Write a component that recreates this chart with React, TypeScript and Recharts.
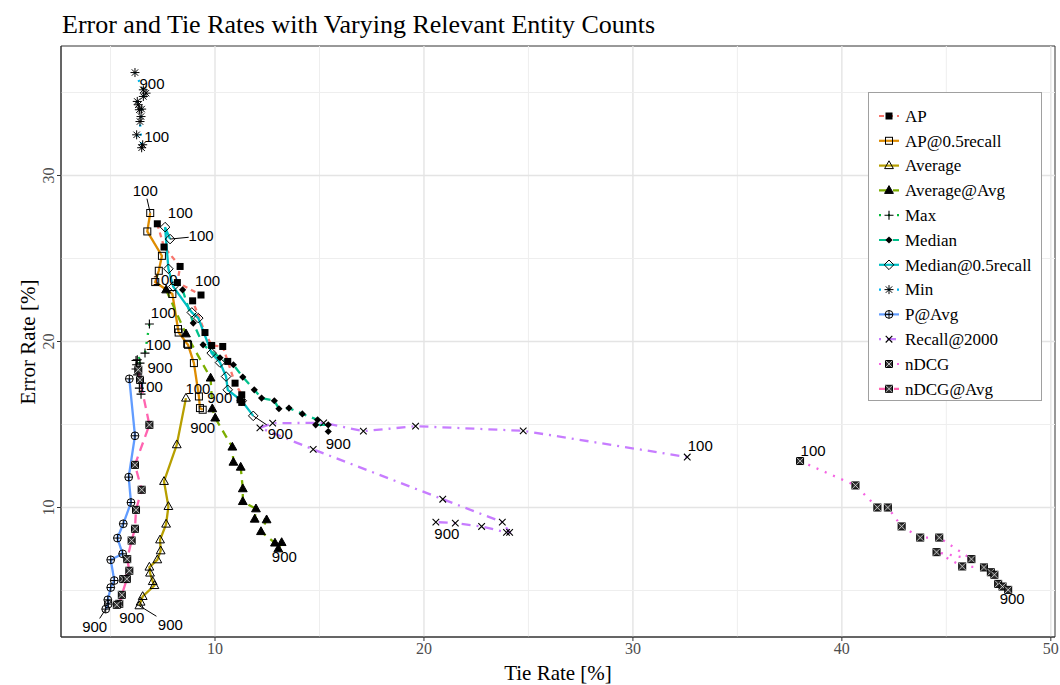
import React from 'react';
import { ScatterChart, Scatter, XAxis, YAxis, ReferenceLine, ReferenceArea } from 'recharts';

// tie rate [%] / error rate [%] per series, ordered 100 -> 900 relevant entities
const apTie = [7.24, 7.56, 8.33, 8.2, 9.33, 8.93, 9.52, 9.84, 10.37, 10.61, 10.96, 11.28, 11.2, 11.28];
const apErr = [27.09, 25.69, 24.52, 23.55, 22.8, 22.45, 20.54, 19.76, 19.7, 18.8, 17.49, 16.79, 16.49, 16.33];

const ap05Tie = [6.9, 6.76, 7.46, 7.31, 7.14, 7.96, 8.23, 8.26, 8.67, 8.71, 8.99, 9.23, 9.28, 9.41];
const ap05Err = [27.74, 26.63, 25.16, 24.26, 23.58, 22.86, 20.75, 20.54, 19.86, 19.8, 18.7, 16.69, 15.99, 15.89];

const avgTie = [8.61, 8.17, 7.56, 7.77, 7.66, 7.37, 7.4, 7.24, 6.86, 6.89, 7.02, 7.1, 6.54, 6.44, 6.38];
const avgErr = [16.59, 13.78, 11.57, 10.06, 9.0, 8.05, 7.39, 6.85, 6.41, 6.05, 5.54, 5.3, 4.64, 4.3, 4.08];

const avgAvgTie = [7.66, 8.61, 9.79, 9.87, 10.01, 10.83, 10.88, 11.23, 11.33, 11.33, 11.96, 11.9, 12.47, 12.2, 12.87, 13.19, 13.03];
const avgAvgErr = [23.11, 20.46, 17.8, 15.95, 15.39, 13.64, 12.73, 12.43, 11.13, 10.36, 9.92, 9.3, 9.26, 8.55, 7.86, 7.89, 7.51];

const maxTie = [6.86, 6.65, 6.22, 6.28, 6.41, 6.25, 6.22, 6.3, 6.49, 6.38, 6.46];
const maxErr = [21.05, 19.3, 18.86, 18.9, 18.7, 18.6, 18.34, 17.99, 17.49, 17.19, 16.83];

const medTie = [8.45, 8.96, 9.43, 10.24, 10.88, 11.33, 11.88, 12.23, 12.84, 13.06, 13.54, 14.18, 14.91, 14.82, 15.42, 15.42];
const medErr = [23.11, 21.11, 19.8, 19.02, 18.6, 17.86, 17.09, 16.59, 16.43, 15.95, 15.99, 15.64, 15.28, 14.98, 14.98, 14.58];

const med05Tie = [7.85, 7.61, 7.77, 8.0, 8.89, 9.2, 9.84, 10.24, 10.53, 10.61, 11.28, 11.83];
const med05Err = [26.17, 26.89, 24.38, 23.31, 21.75, 21.41, 19.3, 18.73, 17.89, 17.09, 16.43, 15.52];

const minTie = [6.25, 6.54, 6.49, 6.41, 6.46, 6.38, 6.49, 6.33, 6.28, 6.57, 6.7, 6.57, 6.17];
const minErr = [32.45, 31.85, 31.67, 33.25, 33.55, 33.96, 34.0, 34.26, 34.46, 34.76, 34.96, 35.16, 36.2];

const pAvgTie = [5.9, 6.17, 5.87, 5.98, 5.61, 5.33, 5.58, 5.01, 5.18, 5.01, 4.87, 4.89, 4.77];
const pAvgErr = [17.75, 14.32, 11.83, 10.3, 9.02, 8.16, 7.21, 6.85, 5.6, 5.18, 4.44, 4.18, 3.88];

const recallTie = [32.6, 24.75, 19.6, 17.1, 15.2, 12.76, 12.15, 14.7, 20.9, 23.75, 24.1, 23.95, 22.76, 21.5, 20.57];
const recallErr = [13.04, 14.62, 14.9, 14.6, 15.1, 15.08, 14.8, 13.5, 10.5, 9.12, 8.5, 8.5, 8.86, 9.06, 9.12];

const ndcgTie = [38.0, 40.65, 41.7, 42.2, 42.86, 43.75, 44.66, 46.2, 44.53, 45.76, 46.8, 47.13, 47.3, 47.48, 47.69, 47.96];
const ndcgErr = [12.8, 11.33, 10.0, 10.0, 8.86, 8.19, 8.19, 6.89, 7.31, 6.45, 6.39, 6.1, 5.95, 5.4, 5.24, 5.04];

const ndcgAvgTie = [6.33, 6.41, 6.86, 6.17, 6.49, 6.22, 6.17, 6.01, 5.8, 5.9, 5.61, 5.78, 5.54, 5.42, 5.3];
const ndcgAvgErr = [18.3, 17.69, 14.98, 12.57, 11.07, 9.86, 8.72, 8.01, 6.89, 6.19, 5.69, 5.69, 4.74, 4.2, 4.14];

const endLabels = ['100', '900'];
const xTicks = [10, 20, 30, 40, 50];
const yTicks = [10, 20, 30];
const xGrid = [5, 10, 15, 20, 25, 30, 35, 40, 45, 50];
const yGrid = [5, 10, 15, 20, 25, 30, 35];

const X_MIN = 2.63;
const X_MAX = 50.2;
const Y_MIN = 2.2;
const Y_MAX = 37.8;

const SERIF = '"Liberation Serif", "Times New Roman", serif';
const SANS = '"Liberation Sans", Arial, sans-serif';

const SERIES = [
  { name: 'AP', tie: apTie, err: apErr, color: '#F8766D', dash: '5 4', shape: 'sqFill' },
  { name: 'AP@0.5recall', tie: ap05Tie, err: ap05Err, color: '#DE8C00', dash: undefined, shape: 'sqOpen' },
  { name: 'Average', tie: avgTie, err: avgErr, color: '#B79F00', dash: undefined, shape: 'triOpen' },
  { name: 'Average@Avg', tie: avgAvgTie, err: avgAvgErr, color: '#7CAE00', dash: '8 6', shape: 'triFill' },
  { name: 'Max', tie: maxTie, err: maxErr, color: '#00BA38', dash: '2 7', shape: 'plus' },
  { name: 'Median', tie: medTie, err: medErr, color: '#00C08B', dash: '8 6', shape: 'diaFill' },
  { name: 'Median@0.5recall', tie: med05Tie, err: med05Err, color: '#00BFC4', dash: undefined, shape: 'diaOpen' },
  { name: 'Min', tie: minTie, err: minErr, color: '#00B4F0', dash: '2 7', shape: 'star' },
  { name: 'P@Avg', tie: pAvgTie, err: pAvgErr, color: '#619CFF', dash: undefined, shape: 'circPlus' },
  { name: 'Recall@2000', tie: recallTie, err: recallErr, color: '#C77CFF', dash: '2 6 9 6', shape: 'cross' },
  { name: 'nDCG', tie: ndcgTie, err: ndcgErr, color: '#F564E3', dash: '2 7', shape: 'sqCross' },
  { name: 'nDCG@Avg', tie: ndcgAvgTie, err: ndcgAvgErr, color: '#FF64B0', dash: '9 6', shape: 'sqCross' },
];

// label offsets in px from the point: [dx, dy, leader fraction] for the 100 and 900 ends
const LABEL_POS: Record<string, number[][]> = {
  'AP': [[23, -11, 0], [-22, -5, 0]],
  'AP@0.5recall': [[-5, -22, 0.65], [0, 18, 0]],
  'Average': [[12, -10, 0], [31, 19, 0.55]],
  'Average@Avg': [[-1, -10, 0], [6, 8, 0]],
  'Max': [[14, -11, 0], [19, -27, 0]],
  'Median': [[25, -9, 0], [10, 12, 0]],
  'Median@0.5recall': [[31, -3, 0.6], [27, 18, 0.5]],
  'Min': [[20, 2, 0], [17, 11, 0]],
  'P@Avg': [[21, 8, 0], [-11, 17, 0.55]],
  'Recall@2000': [[13, -11, 0], [11, 11, 0]],
  'nDCG': [[13, -10, 0], [4, 9, 0]],
  'nDCG@Avg': [[20, -25, 0], [15, 13, 0]],
};

const pts = (t: number[], e: number[]) => t.map((x, i) => ({ x, y: e[i] }));

function Marker({ kind, x, y }: { kind: string; x: number; y: number }) {
  const k = '#000';
  switch (kind) {
    case 'sqFill':
      return <rect x={x - 3.5} y={y - 3.5} width={7} height={7} fill={k} />;
    case 'sqOpen':
      return <rect x={x - 3.5} y={y - 3.5} width={7} height={7} fill="none" stroke={k} strokeWidth={1} />;
    case 'triOpen':
    case 'triFill':
      return (
        <polygon
          points={`${x},${y - 4.8} ${x - 4.4},${y + 3} ${x + 4.4},${y + 3}`}
          fill={kind === 'triFill' ? k : 'none'}
          stroke={k}
          strokeWidth={1}
        />
      );
    case 'plus':
      return <path d={`M${x - 4.5},${y}H${x + 4.5}M${x},${y - 4.5}V${y + 4.5}`} stroke={k} strokeWidth={1.1} />;
    case 'diaFill':
      return <polygon points={`${x},${y - 3.6} ${x + 3.6},${y} ${x},${y + 3.6} ${x - 3.6},${y}`} fill={k} />;
    case 'diaOpen':
      return (
        <polygon
          points={`${x},${y - 4.8} ${x + 4.8},${y} ${x},${y + 4.8} ${x - 4.8},${y}`}
          fill="none"
          stroke={k}
          strokeWidth={1}
        />
      );
    case 'star':
      return (
        <path
          d={`M${x - 4.5},${y}H${x + 4.5}M${x},${y - 4.5}V${y + 4.5}M${x - 3.2},${y - 3.2}L${x + 3.2},${y + 3.2}M${x - 3.2},${y + 3.2}L${x + 3.2},${y - 3.2}`}
          stroke={k}
          strokeWidth={1}
        />
      );
    case 'circPlus':
      return (
        <g fill="none" stroke={k} strokeWidth={1}>
          <circle cx={x} cy={y} r={3.9} />
          <path d={`M${x - 3.9},${y}H${x + 3.9}M${x},${y - 3.9}V${y + 3.9}`} />
        </g>
      );
    case 'cross':
      return <path d={`M${x - 3.3},${y - 3.3}L${x + 3.3},${y + 3.3}M${x - 3.3},${y + 3.3}L${x + 3.3},${y - 3.3}`} stroke={k} strokeWidth={1.1} />;
    case 'sqCross':
      return (
        <g fill="none" stroke={k} strokeWidth={1}>
          <rect x={x - 3.5} y={y - 3.5} width={7} height={7} fill="#333" />
          <path d={`M${x - 3.5},${y - 3.5}L${x + 3.5},${y + 3.5}M${x - 3.5},${y + 3.5}L${x + 3.5},${y - 3.5}`} stroke="#ddd" strokeWidth={0.8} />
        </g>
      );
    default:
      return null;
  }
}

const YTick = (props: any) => {
  const { x, y, payload } = props;
  return (
    <text
      x={x - 1}
      y={y}
      transform={`rotate(-90 ${x - 1} ${y})`}
      textAnchor="middle"
      fill="#4D4D4D"
      fontSize={16}
      fontFamily={SERIF}
    >
      {payload.value}
    </text>
  );
};

const labelShape = (name: string) => (p: any) => {
  const end = p.payload.end;
  const [dx, dy, lead] = LABEL_POS[name][end];
  return (
    <g>
      {lead ? (
        <line x1={p.cx} y1={p.cy} x2={p.cx + dx * lead} y2={p.cy + dy * lead} stroke="#000" strokeWidth={1} />
      ) : null}
      <text x={p.cx + dx} y={p.cy + dy} dy="0.36em" textAnchor="middle" fontSize={15} fontFamily={SANS} fill="#000">
        {endLabels[end]}
      </text>
    </g>
  );
};

const Legend = () => (
  <svg width={175} height={310} style={{ position: 'absolute', left: 868, top: 92 }}>
    <rect x={0.5} y={0.5} width={173} height={308} fill="#fff" stroke="#a0a0a0" strokeWidth={1} />
    {SERIES.map((s, i) => {
      const cy = 24 + i * 24.8;
      return (
        <g key={s.name}>
          <line x1={11} x2={31} y1={cy} y2={cy} stroke={s.color} strokeWidth={2.2} strokeDasharray={s.dash} />
          <Marker kind={s.shape} x={21} y={cy} />
          <text x={37} y={cy} dy="0.34em" fontSize={17} fontFamily={SERIF} fill="#000">
            {s.name}
          </text>
        </g>
      );
    })}
  </svg>
);

export default function App() {
  return (
    <div style={{ position: 'absolute', left: 0, top: 0, width: 1060, height: 685, background: '#fff' }}>
      <ScatterChart width={1060} height={685} margin={{ top: 46, right: 5, bottom: 0, left: 21 }}>
        <XAxis
          type="number"
          dataKey="x"
          domain={[X_MIN, X_MAX]}
          ticks={xTicks}
          allowDataOverflow
          height={48}
          tickSize={4}
          tickMargin={2}
          stroke="#333"
          tick={{ fill: '#4D4D4D', fontSize: 16, fontFamily: SERIF }}
        />
        <YAxis
          type="number"
          dataKey="y"
          domain={[Y_MIN, Y_MAX]}
          ticks={yTicks}
          allowDataOverflow
          width={40}
          tickSize={4}
          tickMargin={2}
          stroke="#333"
          tick={<YTick />}
        />
        {xGrid.map((v) => (
          <ReferenceLine key={`gx${v}`} x={v} stroke={v % 10 === 0 ? '#e4e4e4' : '#eeeeee'} strokeWidth={v % 10 === 0 ? 1.4 : 1} />
        ))}
        {yGrid.map((v) => (
          <ReferenceLine key={`gy${v}`} y={v} stroke={v % 10 === 0 ? '#e4e4e4' : '#eeeeee'} strokeWidth={v % 10 === 0 ? 1.4 : 1} />
        ))}
        {SERIES.map((s) => (
          <Scatter
            key={`line-${s.name}`}
            data={pts(s.tie, s.err)}
            line={{ stroke: s.color, strokeWidth: 2.3, strokeDasharray: s.dash }}
            shape={() => <g />}
            isAnimationActive={false}
          />
        ))}
        {SERIES.map((s) => (
          <Scatter
            key={`pts-${s.name}`}
            data={pts(s.tie, s.err)}
            shape={(p: any) => <Marker kind={s.shape} x={p.cx} y={p.cy} />}
            isAnimationActive={false}
          />
        ))}
        {SERIES.map((s) => (
          <Scatter
            key={`lab-${s.name}`}
            data={[
              { x: s.tie[0], y: s.err[0], end: 0 },
              { x: s.tie[s.tie.length - 1], y: s.err[s.err.length - 1], end: 1 },
            ]}
            shape={labelShape(s.name)}
            isAnimationActive={false}
          />
        ))}
        <ReferenceArea x1={X_MIN} x2={X_MAX} y1={Y_MIN} y2={Y_MAX} fill="none" stroke="#333" strokeWidth={1} ifOverflow="visible" />
      </ScatterChart>

      <svg width={1060} height={685} style={{ position: 'absolute', left: 0, top: 0, pointerEvents: 'none' }}>
        <text x={62} y={33} fontSize={26} fontFamily={SERIF} fill="#000">
          Error and Tie Rates with Varying Relevant Entity Counts
        </text>
        <text x={558} y={680} textAnchor="middle" fontSize={21} fontFamily={SERIF} fill="#000">
          Tie Rate [%]
        </text>
        <text transform="translate(35 342) rotate(-90)" textAnchor="middle" fontSize={21} fontFamily={SERIF} fill="#000">
          Error Rate [%]
        </text>
      </svg>
      <Legend />
    </div>
  );
}
